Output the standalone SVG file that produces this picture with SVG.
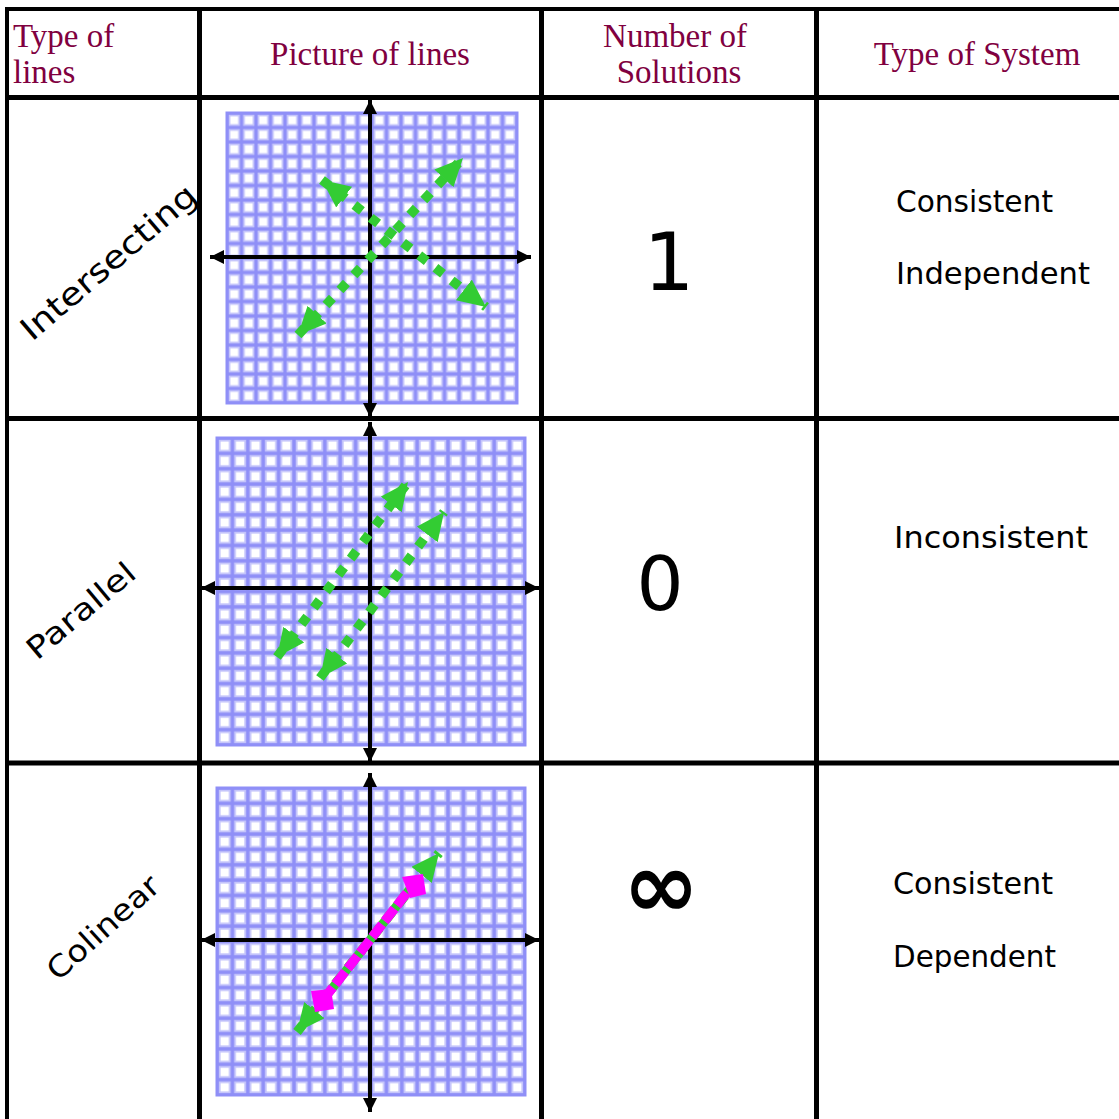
<svg xmlns="http://www.w3.org/2000/svg" width="1119" height="1119" viewBox="0 0 1119 1119">
<defs>
<style>
.tbl{stroke:#000;stroke-width:5;fill:none}
.tblo{stroke:#000;stroke-width:4;fill:none}
.hdr{font-family:"Liberation Serif","Times New Roman",serif;font-size:33px;fill:#800040}
.cm{font-family:"DejaVu Sans",sans-serif;fill:#000}
.axis{stroke:#000;stroke-width:4;fill:none;marker-start:url(#ax);marker-end:url(#ax)}
.gl{stroke:#33cc33;stroke-width:9.5;fill:none;stroke-dasharray:9.5 11;marker-start:url(#ga);marker-end:url(#ga)}
.gridbox{fill:url(#grid);stroke:#8f8ff7;stroke-width:3}
</style>
<pattern id="grid" patternUnits="objectBoundingBox" patternContentUnits="objectBoundingBox" width="0.05" height="0.05">
<rect x="0" y="0" width="0.05" height="0.05" fill="#8f8ff7"/>
<rect x="0.0055" y="0.0055" width="0.039" height="0.039" fill="#c4c4fb"/>
<rect x="0.0115" y="0.0115" width="0.027" height="0.027" fill="#ffffff"/>
</pattern>
<marker id="ax" markerUnits="userSpaceOnUse" markerWidth="14" markerHeight="14" refX="12" refY="6" orient="auto-start-reverse" viewBox="0 0 12 12">
<path d="M0,0 L12,6 L0,12 z" fill="#000"/>
</marker>
<marker id="ga" markerUnits="userSpaceOnUse" markerWidth="30" markerHeight="28" refX="28" refY="13" orient="auto-start-reverse" viewBox="0 0 30 28">
<path d="M0,0 L28,13 L0,26 z" fill="#33cc33"/>
</marker>
</defs>
<rect width="1119" height="1119" fill="#fff"/>

<g id="table">
<path class="tblo" d="M5,9 H1119 M7,9 V1119"/>
<path class="tbl" d="M199.5,9 V1119 M541.5,9 V1119 M816.5,9 V1119 M7,97.5 H1119 M7,418.5 H1119 M7,763 H1119"/>
</g>

<g id="header">
<text class="hdr" x="13" y="47">Type of</text>
<text class="hdr" x="13" y="83">lines</text>
<text class="hdr" x="370" y="65" text-anchor="middle">Picture of lines</text>
<text class="hdr" x="675" y="47" text-anchor="middle">Number of</text>
<text class="hdr" x="679" y="83" text-anchor="middle">Solutions</text>
<text class="hdr" x="977" y="65" text-anchor="middle">Type of System</text>
</g>

<g id="row-intersecting">
<text class="cm" font-size="32" transform="translate(32,342) rotate(-40.5)" textLength="220" lengthAdjust="spacingAndGlyphs">Intersecting</text>
<g id="graph1">
<rect class="gridbox" x="227" y="113" width="290" height="290"/>
<line class="axis" x1="370" y1="100" x2="370" y2="417"/>
<line class="axis" x1="210" y1="257" x2="531" y2="257"/>
<line class="gl" x1="298" y1="335" x2="463" y2="158"/>
<line class="gl" x1="322" y1="180" x2="486" y2="307"/>
</g>
<text class="cm" font-size="80" x="669" y="290" text-anchor="middle">1</text>
<text class="cm" font-size="31" x="896" y="212" textLength="157" lengthAdjust="spacingAndGlyphs">Consistent</text>
<text class="cm" font-size="31" x="896" y="284" textLength="194" lengthAdjust="spacingAndGlyphs">Independent</text>
</g>

<g id="row-parallel">
<text class="cm" font-size="30" transform="translate(37,661) rotate(-40)" textLength="132" lengthAdjust="spacingAndGlyphs">Parallel</text>
<g id="graph2">
<rect class="gridbox" x="217" y="438" width="308" height="307"/>
<line class="axis" x1="370" y1="422" x2="370" y2="762"/>
<line class="axis" x1="201" y1="588" x2="539" y2="588"/>
<line class="gl" x1="277" y1="657" x2="408" y2="482"/>
<line class="gl" x1="320" y1="678" x2="444" y2="512"/>
</g>
<text class="cm" font-size="74" x="660" y="610" text-anchor="middle">0</text>
<text class="cm" font-size="31" x="894" y="548" textLength="194" lengthAdjust="spacingAndGlyphs">Inconsistent</text>
</g>

<g id="row-colinear">
<text class="cm" font-size="30" transform="translate(58,982) rotate(-42)" textLength="140" lengthAdjust="spacingAndGlyphs">Colinear</text>
<g id="graph3">
<rect class="gridbox" x="217" y="788" width="308" height="307"/>
<line class="axis" x1="370" y1="773" x2="370" y2="1112"/>
<line class="axis" x1="201" y1="940" x2="539" y2="940"/>
<line class="gl" x1="297" y1="1032" x2="439" y2="853"/>
<line x1="323" y1="1000" x2="413" y2="885" stroke="#33cc33" stroke-width="9"/>
<line x1="323" y1="1000" x2="413" y2="885" stroke="#ff00ff" stroke-width="9.5" stroke-dasharray="16 4"/>
<polygon points="402,877 423,874 426,894 410,898" fill="#ff00ff"/>
<polygon points="311,991 331,989 334,1009 315,1012" fill="#ff00ff"/>
</g>
<text class="cm" font-size="92" font-weight="bold" x="661" y="917" text-anchor="middle">∞</text>
<text class="cm" font-size="31" x="893" y="894" textLength="160" lengthAdjust="spacingAndGlyphs">Consistent</text>
<text class="cm" font-size="31" x="893" y="967" textLength="163" lengthAdjust="spacingAndGlyphs">Dependent</text>
</g>
</svg>
